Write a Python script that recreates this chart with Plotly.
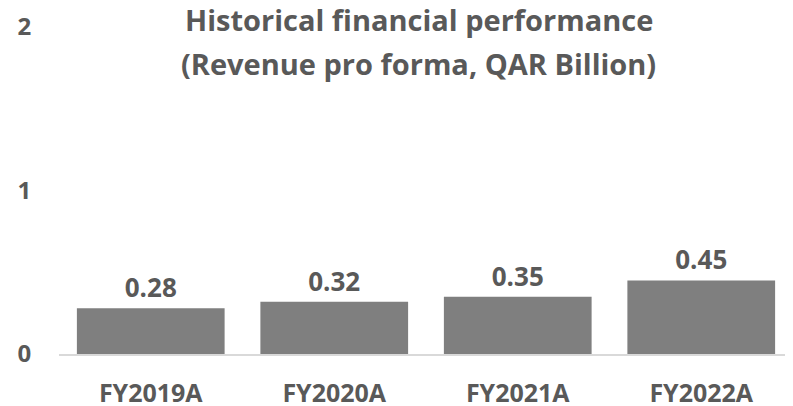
import plotly.graph_objects as go

# revenue pro forma, QAR billion
years = ['FY2019A', 'FY2020A', 'FY2021A', 'FY2022A']
revenue = [0.28, 0.32, 0.35, 0.45]
revenue_labels = ['0.28', '0.32', '0.35', '0.45']
y_ticks = [0, 1, 2]

title_lines = ['Historical financial performance',
               '(Revenue pro forma, QAR Billion)']

FONT = 'Open Sans'
GREY_TEXT = '#595959'

fig = go.Figure()
fig.add_trace(go.Bar(
    x=years,
    y=revenue,
    text=revenue_labels,
    textposition='outside',
    textfont=dict(family=FONT, size=26, color=GREY_TEXT, weight='bold'),
    marker=dict(color='#7f7f7f', line=dict(width=0)),
    cliponaxis=False,
    hoverinfo='skip',
))

# two separate lines so the line pitch matches the original
for i, line in enumerate(title_lines):
    fig.add_annotation(
        text='<b>%s</b>' % line,
        xref='paper', yref='paper',
        x=0.49, y=[1.023, 0.888][i],
        xanchor='center', yanchor='middle',
        showarrow=False,
        font=dict(family=FONT, size=29, color=GREY_TEXT),
    )

# page body has an 8px margin, so the figure is a little smaller than the window
fig.update_layout(
    width=785, height=398,
    margin=dict(l=51, r=0, t=19, b=52),
    paper_bgcolor='white',
    plot_bgcolor='white',
    bargap=0.195,
    showlegend=False,
    font=dict(family=FONT, color=GREY_TEXT),
)
fig.update_xaxes(
    automargin=False,
    showgrid=False,
    showline=True, linecolor='#d9d9d9', linewidth=2,
    ticks='outside', ticklen=16, tickcolor='rgba(0,0,0,0)',
    tickfont=dict(family=FONT, size=25, color=GREY_TEXT, weight='bold'),
)
fig.update_yaxes(
    automargin=False,
    range=[0, 2],
    tickvals=y_ticks,
    showgrid=False, zeroline=False, showline=False,
    ticks='outside', ticklen=22, tickcolor='rgba(0,0,0,0)',
    tickfont=dict(family=FONT, size=24, color=GREY_TEXT, weight='bold'),
)

fig.write_html("out.html")
